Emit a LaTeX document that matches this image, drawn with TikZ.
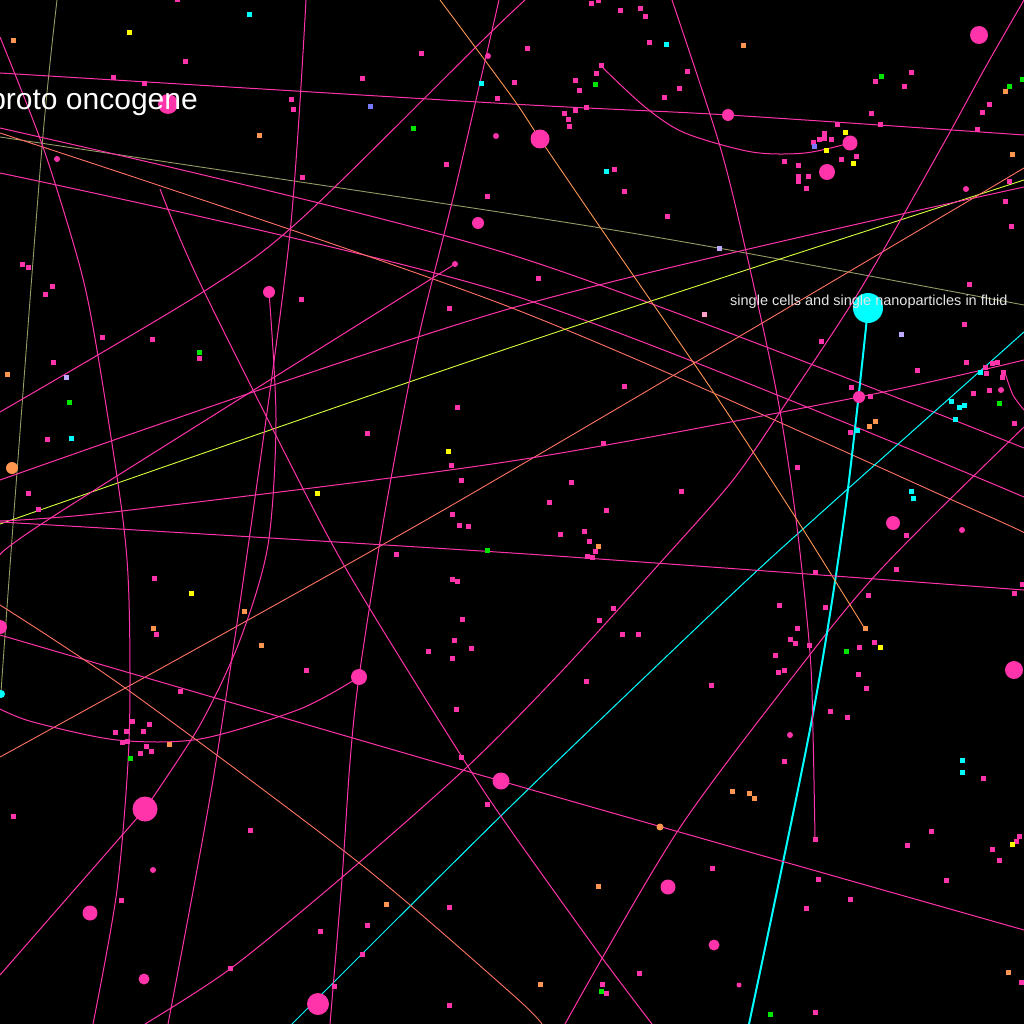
\documentclass[tikz,border=0pt]{standalone}
\usepackage{fontspec}
\setmainfont{Liberation Sans}
\definecolor{hotpink}{RGB}{255,51,170}
\definecolor{dotorange}{RGB}{255,150,80}
\definecolor{salmon}{RGB}{255,115,100}
\definecolor{olive}{RGB}{150,155,100}
\definecolor{limeline}{RGB}{215,255,60}
\definecolor{aqua}{RGB}{0,255,255}
\definecolor{dotgreen}{RGB}{0,230,0}
\definecolor{dotyellow}{RGB}{255,255,0}
\definecolor{periwinkle}{RGB}{120,120,255}
\definecolor{lavender}{RGB}{190,170,255}
\definecolor{palepink}{RGB}{255,160,200}
\begin{document}
\begin{tikzpicture}[x=1pt,y=-1pt,
	pinkline/.style={hotpink,line width=1pt},
	saltline/.style={salmon,line width=0.9pt},
	oliveline/.style={olive,line width=0.9pt},
	cyanline/.style={aqua,line width=1pt}]
			\useasboundingbox (0,0) rectangle (1024,1024);
			\fill[black] (0,0) rectangle (1024,1024);
			\clip (0,0) rectangle (1024,1024);
			
			\coordinate[](fluid) at (868,308);
			\coordinate[](hubA) at (859,397);
			\coordinate[](hubB) at (145,809);
			\coordinate[](hubC) at (359,677);
			\coordinate[](hubD) at (501,781);
			\coordinate[](hubE) at (540,139);
			\coordinate[](hubF) at (850,143);
			\coordinate[](hubG) at (269,292);
			\coordinate[](hubH) at (455,264);
			
			% long lines
			\draw[oliveline] plot[smooth] coordinates {(57,0) (42,147) (14,512) (1,692)};
			\draw[oliveline] plot[smooth] coordinates {(0,137) (512,214) (718,248) (1024,305)};
			\draw[pinkline] plot[smooth] coordinates {(0,73) (512,104) (728,115) (1024,135)};
			\draw[pinkline] plot[smooth] coordinates {(0,128) (512,255) (1024,448)};
			\draw[pinkline] plot[smooth] coordinates {(0,173) (512,295) (1024,497)};
			\draw[saltline] plot[smooth] coordinates {(0,133) (512,308) (979,512) (1024,534)};
			\draw[limeline,line width=0.9pt] plot[smooth] coordinates {(0,524) (512,347) (1024,180)};
			\draw[pinkline] plot[smooth] coordinates {(0,480) (512,308) (1024,187)};
			\draw[pinkline] plot[smooth] coordinates {(0,412) (203,292) (300,220) (483,40) (525,0)};
			\draw[pinkline] plot[smooth] coordinates {(hubH) (60,512) (0,555)};
			\draw[saltline] plot[smooth] coordinates {(0,757) (440,512) (1024,168)};
			\draw[pinkline] plot[smooth] coordinates {(306,0) (290,233) (253,512) (213,780) (168,1024)};
			\draw[pinkline] plot[smooth] coordinates {(hubG) (276,420) (268,545) (240,640) (200,725) (hubB)};
			\draw[pinkline] (hubB)--(0,975);
			\draw[pinkline] plot[smooth] coordinates {(145,1024) (230,969) (340,879) (467,767) (560,673) (660,563) (733,480) (788,400) (860,290) (940,150) (985,68) (1024,0)};
			\draw[pinkline] plot[smooth] coordinates {(565,1024) (679,829) (812,652) (872,579) (937,512) (1024,427)};
			\draw[cyanline] plot[smooth] coordinates {(292,1024) (512,805) (729,597) (822,512) (1024,332)};
			\draw[aqua,line width=2pt] plot[smooth] coordinates {(fluid) (845,512) (812,719) (749,1024)};
			\draw[pinkline] plot[smooth] coordinates {(672,0) (719,143) (745,247) (778,400) (797,527) (810,653) (813,733) (815,838)};
			\draw[dotorange,line width=0.9pt] plot[smooth] coordinates {(440,0) (512,97) (hubE) (602,230) (712,390) (792,512) (865,629)};
			\draw[pinkline] plot[smooth] coordinates {(0,521) (122,511) (512,461) (hubA) (1024,360)};
			\draw[pinkline] plot[smooth] coordinates {(0,522) (512,553) (1024,590)};
			\draw[pinkline] plot[smooth] coordinates {(0,635) (hubD) (1024,930)};
			\draw[pinkline] plot[smooth] coordinates {(0,709) (33,722) (117,740) (200,739) (300,709) (hubC)};
			\draw[saltline] plot[smooth] coordinates {(0,605) (128,690) (358,862) (512,994) (542,1024)};
			\draw[pinkline] plot[smooth] coordinates {(160,189) (200,283) (315,512) (370,609) (467,765) (512,832) (600,955) (652,1024)};
			\draw[pinkline] plot[smooth] coordinates {(499,0) (455,190) (418,340) (385,512) (hubC) (350,762) (342,879) (330,1024)};
			\draw[pinkline] plot[smooth] coordinates {(0,37) (43,147) (80,267) (97,350) (122,512) (129,600) (129,742) (117,890) (93,1024)};
			\draw[pinkline] plot[smooth] coordinates {(601,66) (645,107) (685,133) (752,152) (805,153) (hubF)};
			\draw[pinkline] plot[smooth] coordinates {(1005,373) (1013,395) (1024,410)};
			
			% small squares
			\foreach \x/\y in {177/0,185/62,113/78,144/84,291/100,293/110,362/79,421/54,497/99,446/165,487/197,302/178,22/264,28/267,52/286,45/294,102/337,152/339,199/358,53/362,301/299,449/308,457/407,367/433,451/465,461/480,47/439,28/493,38/509,
				591/4,598/1,620/11,640/9,645/17,649/43,527/49,514/83,601/66,596/74,575/81,579/91,564/114,568/120,569/127,575/111,586/108,687/72,679/89,664/98,614/170,624/192,667/217,875/82,904/87,911/73,871/114,880/125,837/125,824/134,819/140,824/139,831/140,813/143,856/157,841/160,784/162,798/166,798/177,808/177,798/182,806/189,989/105,982/113,977/130,1009/182,1005/202,1011/227,969/284,964/324,821/341,538/278,624/386,603/443,917/370,851/387,870/396,850/432,966/362,985/367,992/363,997/362,986/373,1003/372,1002/377,989/390,973/393,1014/423,797/467,571/482,681/491,549/502,606/510,
				452/514,459/525,468/526,396/554,452/579,457/581,462/619,454/640,471/648,428/651,452/658,306/670,456/709,461/757,487/804,154/578,156/634,180/691,132/721,149/724,126/731,115/732,143/731,122/742,127/741,146/746,151/751,140/753,13/816,250/830,121/900,320/931,367/925,362/954,449/907,230/968,334/986,449/1005,
				560/534,584/531,589/541,595/551,587/556,592/557,613/608,599/620,622/634,638/634,586/681,711/685,779/605,797/628,790/639,795/643,809/645,775/655,784/670,778/672,825/607,815/572,896/569,906/535,868/595,859/647,874/642,858/674,866/688,830/711,847/717,784/761,815/839,1014/593,1022/584,983/778,931/831,907/845,992/849,999/860,1019/836,1016/841,946/880,818/879,850/899,806/908,712/868,639/973,602/984,606/993,815/1012,1021/982}
				\fill[hotpink] (\x-2.5,\y-2.5) rectangle ++(5,5);
			\foreach \x/\y in {13/41,259/136,7/374,743/46,1005/92,1012/155,875/421,869/426,153/628,244/611,261/645,169/744,386/904,598/546,865/628,732/791,749/793,754/798,598/886,540/984,1008/972}
				\fill[dotorange] (\x-2.5,\y-2.5) rectangle ++(5,5);
			\foreach \x/\y in {129/33,448/451,317/493,845/133,826/151,853/164,191/593,880/647,1012/844}
				\fill[dotyellow] (\x-2.5,\y-2.5) rectangle ++(5,5);
			\foreach \x/\y in {249/15,481/84,71/438,666/45,606/172,980/372,951/401,959/407,964/405,955/419,857/430,911/491,913/498,962/760,962/772}
				\fill[aqua] (\x-2.5,\y-2.5) rectangle ++(5,5);
			\foreach \x/\y in {413/129,199/352,69/402,595/85,881/77,1009/87,1022/80,999/403,487/550,130/758,846/651,601/991,770/1014}
				\fill[dotgreen] (\x-2.5,\y-2.5) rectangle ++(5,5);
			\foreach \x/\y in {370/107,814/147}
				\fill[periwinkle] (\x-2.5,\y-2.5) rectangle ++(5,5);
			\foreach \x/\y in {66/377,719/248,901/334}
				\fill[lavender] (\x-2.5,\y-2.5) rectangle ++(5,5);
			\fill[palepink] (701.5,311.5) rectangle ++(5,5);
			
			% round dots
			\foreach \x/\y/\r in {168/104/10,979/35/9,728/115/6,827/172/8,478/223/6,893/523/7,0/627/7,1014/670/9,90/913/7.5,144/979/5.5,318/1004/11,668/887/7.5,714/945/5.5,153/870/3,790/735/3,739/985/2.5,57/159/3,496/136/3,488/56/3,962/530/3,966/189/3,1001/390/3}
				\fill[hotpink] (\x,\y) circle (\r);
			\fill[hotpink] (hubA) circle (6);
			\fill[hotpink] (hubB) circle (12.5);
			\fill[hotpink] (hubC) circle (8);
			\fill[hotpink] (hubD) circle (8.5);
			\fill[hotpink] (hubE) circle (9.5);
			\fill[hotpink] (hubF) circle (7.5);
			\fill[hotpink] (hubG) circle (6);
			\fill[hotpink] (hubH) circle (3);
			\fill[dotorange] (12,468) circle (6);
			\fill[dotorange] (660,827) circle (3.5);
			\fill[aqua] (1,694) circle (4);
			\fill[aqua] (fluid) circle (15);
			
			\node[anchor=base east,inner sep=0,text=white,font=\fontsize{30}{36}\selectfont](title) at (198,110) {proto oncogene};
			\node[anchor=base west,inner sep=0,text=white!90!black,font=\fontsize{14.5}{17}\selectfont](caption) at (730,305) {single cells and single nanoparticles in fluid};
			\end{tikzpicture}
\end{document}
